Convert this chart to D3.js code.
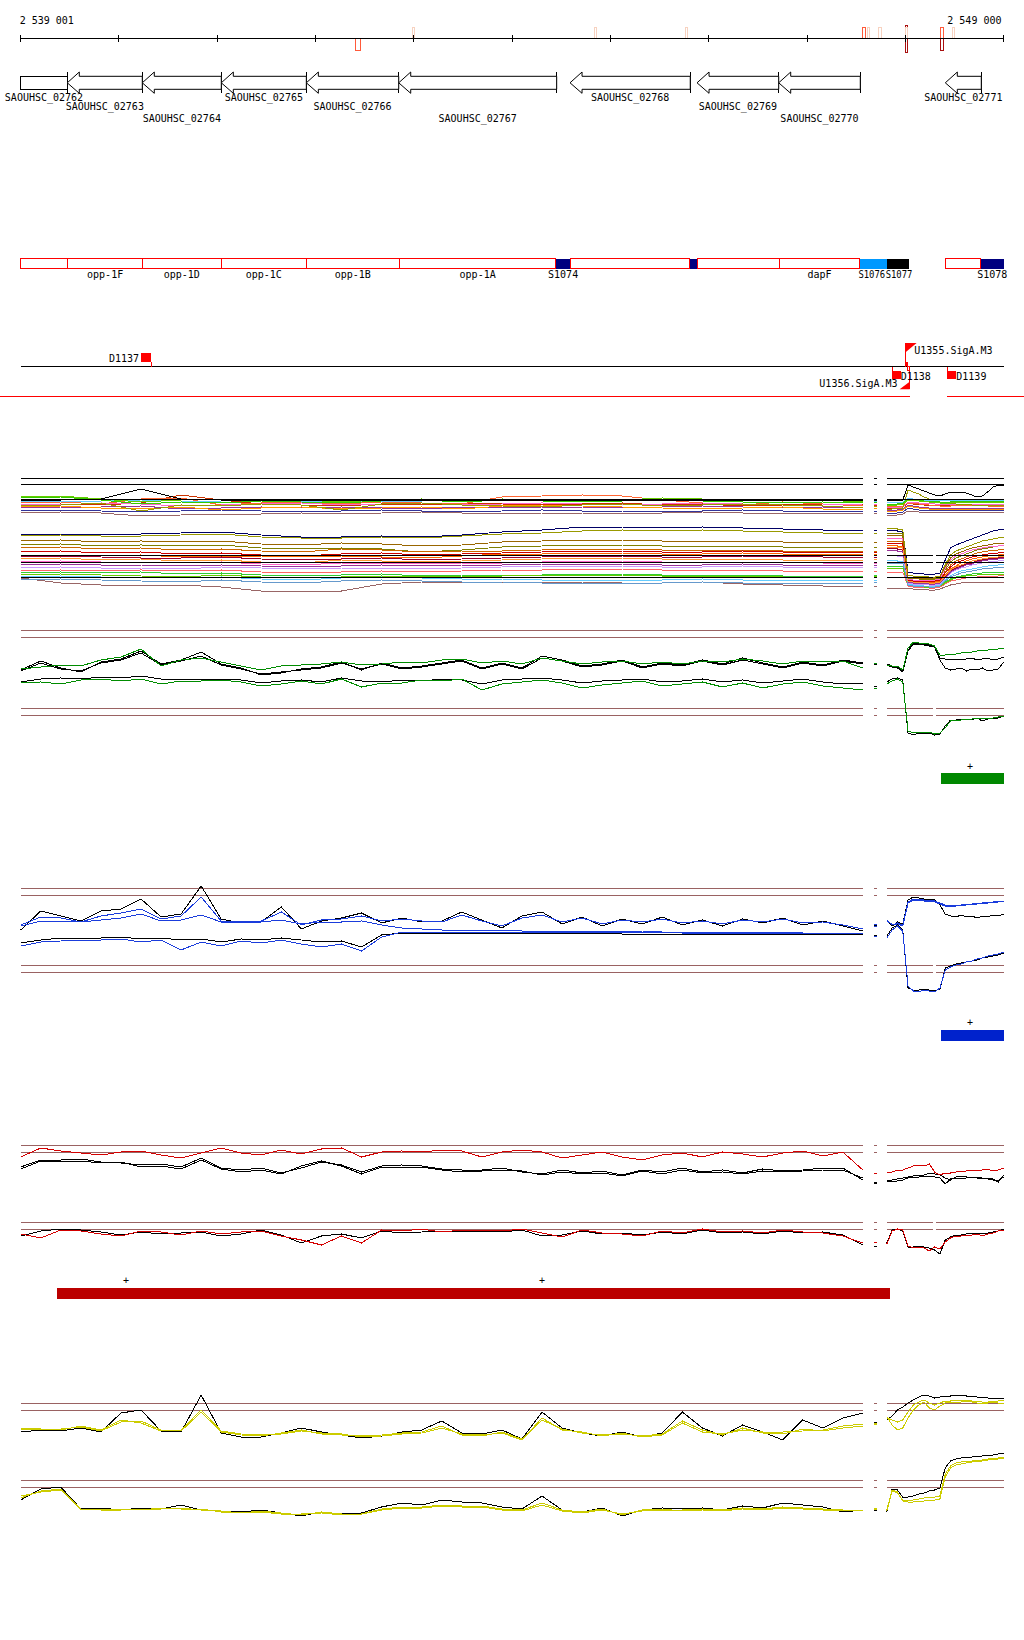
<!DOCTYPE html>
<html><head><meta charset="utf-8">
<script src="https://cdn.jsdelivr.net/npm/d3@7"></script>
<style>
body{margin:0;background:#fff}
svg{display:block}
text{font-family:"DejaVu Sans Mono","Liberation Mono",monospace;font-size:10px;fill:#000}
</style></head>
<body><svg id="c" width="1024" height="1640"></svg>
<script>
// ---------- axis / positions ----------
const VIEW = [2539001, 2549000];
const tickPos = [2539001,2540001,2541001,2542001,2543001,2544001,2545001,2546001,2547001,2548001,2549000];
const tickLabels = ['2 539 001', '2 549 000'];
const mainPos = d3.range(43).map(i => 2539001 + i * 204);
const mainPosA = d3.range(22).map(i => 2539001 + i * 408);
const rightPos = d3.range(23).map(i => 2547813 + i * 54);
const fragPos = [2547685, 2547712];
const gapRight = [2548283, 2548314];

// ---------- ruler markers ----------
const markStart = [2542412,2542989,2544841,2545767,2547563,2547614,2547731,2548000,2548004,2548357,2548357,2548479];
const markEnd   = [2542460,2543004,2544864,2545787,2547598,2547632,2547760,2548024,2548016,2548391,2548391,2548497];
const markStrand= ['-','+','+','+','+','+','+','±','+','+','-','+'];
const markScore = [2,1,1,1,2,1,1,3,1,2,3,1];

// ---------- genes ----------
const geneNames = ['SAOUHSC_02762','SAOUHSC_02763','SAOUHSC_02764','SAOUHSC_02765','SAOUHSC_02766','SAOUHSC_02767','SAOUHSC_02768','SAOUHSC_02769','SAOUHSC_02770','SAOUHSC_02771'];
const geneStart = [2538500,2539475,2540238,2541042,2541907,2542847,2544590,2545882,2546713,2548408];
const geneEnd   = [2539475,2540238,2541042,2541907,2542847,2544454,2545813,2546713,2547543,2548774];

// ---------- feature bar ----------
const featNames = ['','opp-1F','opp-1D','opp-1C','opp-1B','opp-1A','S1074','','','','dapF','S1076','S1077','','S1078'];
const featStart = [2539001,2539482,2540238,2541042,2541907,2542853,2544447,2544592,2545810,2545885,2546716,2547540,2547814,2548405,2548771];
const featEnd   = [2539482,2540238,2541042,2541907,2542853,2544447,2544592,2545810,2545885,2546716,2547540,2547814,2548035,2548771,2549000];
const featType  = ['cds','cds','cds','cds','cds','cds','srna','cds','srna','cds','cds','tss','term','cds','srna'];

// ---------- sites / promoters ----------
const siteNames = ['D1137','D1138','D1139'];
const siteStart = [2540225,2547868,2548428];
const siteEnd   = [2540327,2547954,2548520];
const siteStrand= ['+','-','-'];
const promNames = ['U1355.SigA.M3','U1356.SigA.M3'];
const promPos   = [2548007,2548045];
const promStrand= ['+','-'];
const segLine   = [[2538790,2548045],[2548428,2549208]];

// ---------- track A (multi-colour) ----------
const refA = [121.7,115.7,100.5,45,37.7,22.7];
const aU1 = [104,104,101,98,100,101,101,100,98,100,101,99,101,100,99,100,102,101,100,99,100,98];
const aU1R = [94,95,95,96,100,100,99,99,98,98,97,97,97,98,98,98,98,98,98,98,98,98,98];
const aU2 = [95,95,97,89,95,94,96,95,90,96,97,95,94,93,95,96,94,95,96,95,94,92];
const aU2R = [91,91,92,92,110,108,106,103,101,99,98,97,97,96,96,96,95,95,95,95,95,95,95];
const aU3 = [97,98,96,101,102,95,97,98,96,98,97,96,103,104,105,104,100,97,95,98,96,94];
const aU3R = [93,94,94,94,97,97,96,96,95,95,94,94,94,95,95,95,95,95,95,94,94,94,94];
const aU4 = [92,93,93,94,91,92,93,92,93,92,91,93,92,93,93,92,93,94,93,92,93,92];
const aU4R = [90,90,90,91,95,94,93,93,92,92,92,92,92,92,92,92,92,92,92,92,92,92,92];
const aU5 = [99,99,99,100,99,99,100,99,99,99,99,100,99,100,100,99,100,100,100,99,100,99];
const aU5R = [98,98,98,98,102,101,101,100,100,100,100,100,100,100,100,100,100,100,100,100,100,100,100];
const aU6 = [87,88,87,84,85,86,86,87,86,87,88,87,86,87,87,86,87,88,87,87,87,87];
const aU6R = [85,85,85,86,89,89,88,88,88,88,88,88,88,88,88,88,88,88,88,88,88,88,88];
const aU7 = [100,100,101,111,101,100,100,100,100,100,100,100,100,100,100,100,100,100,100,100,100,100];
const aU7R = [100,100,100,100,115,113,111,109,107,105,104,106,108,108,108,107,105,103,104,108,113,115,115];
const aU8 = [94,96,95,97,105,100,96,95,94,96,95,97,96,95,96,97,95,96,94,95,96,95];
const aU8R = [92,92,92,93,97,96,96,95,95,95,95,95,95,95,95,95,95,95,95,95,95,95,95];
const aU9 = [96,95,97,96,94,95,96,97,95,96,97,95,96,97,96,95,96,97,96,95,95,96];
const aU9R = [93,93,93,93,98,98,97,97,97,96,96,96,96,96,96,96,96,96,96,96,96,96,96];
const aU10 = [102,103,100,96,98,97,99,98,97,99,100,98,100,99,98,99,100,99,98,97,98,97];
const aU10R = [96,96,96,97,101,100,100,99,99,99,98,98,98,99,99,99,99,99,99,99,99,99,99];
const aU11 = [93,94,92,91,93,90,92,93,91,92,93,91,94,95,94,93,92,91,92,93,91,90];
const aU11R = [89,89,89,90,94,93,92,92,91,91,91,91,91,91,91,91,91,91,91,91,91,91,91];
const aU12 = [90,90,89,88,89,90,89,88,89,90,89,88,89,90,89,89,88,89,90,89,89,88];
const aU12R = [87,87,87,88,92,91,90,90,90,90,90,90,90,90,90,90,90,90,90,90,90,90,90];
const aL1 = [66,66,66,66,67,68,65,63,63,64,63,65,68,70,73,73,72,73,72,71,70,70];
const aL1R = [70,70,69,69,28,27,27,26,26,26,27,40,52,55,57,59,61,63,65,67,69,70,71];
const aL2 = [64,65,64,64,65,66,63,62,62,63,62,64,66,67,69,70,69,70,69,68,67,67];
const aL2R = [72,72,71,70,25,24,24,24,23,23,24,35,45,49,51,53,55,57,59,60,61,62,63];
const aL3 = [55,56,54,55,54,55,52,51,52,51,48,50,53,54,55,55,54,54,54,53,53,52];
const aL3R = [67,67,67,66,22,22,21,21,21,21,22,30,38,42,44,46,48,50,51,52,53,54,55];
const aL4 = [52,53,51,52,50,51,49,48,51,50,48,49,49,50,51,51,50,50,50,49,49,48];
const aL4R = [59,59,59,58,20,20,19,19,19,19,20,28,35,39,41,43,45,47,48,49,50,50,51];
const aL5 = [45,45,44,45,43,44,44,43,44,43,42,44,46,46,47,47,46,46,47,46,46,45];
const aL5R = [55,55,54,54,19,18,18,18,18,18,19,25,31,34,37,39,41,42,43,44,45,45,46];
const aL6 = [44,44,43,42,42,43,41,40,41,42,40,41,42,43,44,44,43,43,44,44,43,43];
const aL6R = [52,52,51,51,18,17,17,17,16,16,17,23,29,32,34,36,37,39,40,41,42,42,43];
const aL7 = [32,33,32,32,31,33,32,31,32,32,31,32,33,34,34,34,33,33,34,33,33,32];
const aL7R = [45,45,44,44,17,16,16,16,15,15,16,22,27,30,32,33,35,36,37,38,39,39,40];
const aL8 = [23,24,23,23,22,23,21,20,22,23,22,21,21,20,20,20,20,21,20,20,20,19];
const aL8R = [40,40,39,39,16,15,15,14,14,14,15,20,24,27,29,30,31,32,33,34,35,35,36];
const aL9 = [27,28,27,28,26,27,25,24,25,26,24,25,25,25,26,26,25,25,25,24,24,24];
const aL9R = [34,34,34,34,15,14,14,14,13,13,14,18,21,23,24,25,26,27,27,28,28,28,28];
const aL10 = [29,30,29,30,29,30,28,27,28,29,28,29,30,30,31,31,30,30,30,29,29,29];
const aL10R = [28,28,28,28,14,13,13,13,12,12,13,16,19,20,21,22,23,23,24,24,24,24,25];
const aL11 = [22,17,15,15,15,13,9,9,9,16,18,18,17,18,18,17,17,18,16,15,14,14];
const aL11R = [12,12,12,12,12,11,11,11,10,10,11,13,15,16,17,18,18,18,18,18,18,18,18];
const aL12 = [38,39,38,38,37,38,36,35,37,37,36,37,37,38,39,39,38,38,38,38,37,37];
const aL12R = [62,62,62,61,21,20,20,20,20,20,21,32,40,44,46,48,50,51,52,53,54,54,55];
const aL13 = [48,49,47,48,46,47,45,44,46,47,45,46,47,48,49,49,48,48,49,48,48,47];
const aL13R = [57,57,57,56,20,19,19,19,19,19,20,27,33,37,39,41,43,44,45,46,47,47,48];
const aL14 = [25,26,25,24,23,25,23,22,23,24,23,24,24,25,25,25,24,24,24,23,23,23];
const aL14R = [32,32,32,32,15,14,14,13,13,13,14,17,20,22,23,24,25,25,26,26,26,26,26];
const aL15 = [35,36,35,35,34,35,34,33,34,35,34,35,35,36,36,36,35,35,36,35,35,34];
const aL15R = [50,50,49,49,18,17,17,17,16,16,17,22,28,31,33,35,36,38,39,40,41,41,42];
const aL16 = [41,42,40,41,39,40,38,37,40,39,38,39,40,41,42,42,41,41,41,40,40,40];
const aL16R = [53,53,53,52,19,18,18,18,17,17,18,24,30,33,35,37,39,40,41,42,43,43,44];
const aL17 = [20,21,20,19,18,20,18,17,19,20,19,18,18,17,17,17,17,18,17,17,17,16];
const aL17R = [37,37,37,37,15,14,14,14,13,13,14,19,23,25,27,28,29,30,31,32,32,33,33];
const aL18 = [59,60,58,59,58,59,56,55,57,56,54,55,58,59,60,60,59,59,59,58,58,57];
const aL18R = [65,65,65,64,23,22,22,22,22,22,23,33,42,46,48,50,52,53,54,55,56,57,57];
// fragment values, in the same order as the track A series list below
const aFrag = [87,92,89,92,95,96,96,94,99,98,100,100,70,67,53,49,46,43,33,20,25,29,14,37,48,24,35,41,18,58];

// ---------- track B (green) ----------
const refB = [109.7,102.7,31.7,24.7];
const bUpBlack = [70,79,72,68,78,81,89,76,80,88,76,72,65,67,71,73,78,70,77,72,74,77,80,72,77,72,84,80,74,76,80,73,77,75,80,76,82,77,73,78,75,80,77];
const bUpBlackR = [75,73,72,68,90,97,97,96,95,94,82,81,81,80,81,81,82,80,81,82,80,81,83];
const bUpBlack2 = [69,77,71,69,77,80,87,75,79,84,75,71,66,68,70,72,77,71,76,71,73,76,79,71,76,71,82,79,73,75,79,72,76,74,79,75,80,76,72,77,74,79,76];
const bUpBlack2R = [76,74,73,69,89,96,96,95,94,93,80,72,70,71,72,69,71,70,72,69,70,71,78];
const bUpGreen = [71,73,75,74,80,83,91,74,80,82,78,74,70,74,75,76,78,75,76,78,77,80,81,77,79,76,82,79,76,78,79,76,78,76,79,78,81,79,76,79,78,79,72];
const bUpGreenR = [75,74,74,70,92,98,97,97,96,94,85,85,86,86,87,88,88,89,90,90,91,91,92];
const bLoBlack = [58,61,62,61,63,62,64,61,60,61,61,60,57,59,60,58,62,59,58,60,59,61,60,56,60,61,62,60,57,59,60,61,58,59,61,58,60,57,59,61,58,56,57];
const bLoBlackR = [58,61,62,60,7,5,7,7,7,5,6,14,20,20,21,21,20,22,19,21,22,22,24];
const bLoGreen = [57,58,56,60,61,59,61,56,59,59,60,58,54,56,59,56,61,53,57,57,60,59,61,50,56,58,60,57,52,55,57,59,54,56,58,53,57,52,56,58,54,52,50];
const bLoGreenR = [56,59,61,58,9,7,8,8,8,6,7,12,19,20,20,21,21,22,21,22,22,23,24];
const bFrag = [77,76,77,54,52];

// ---------- track C (blue) ----------
const refC = [111.7,104.7,34.3,27.3];
const cUpBlack = [70,89,84,79,89,91,101,83,86,114,81,77,78,93,71,79,82,87,77,82,78,79,88,80,72,84,88,76,83,74,81,76,83,75,80,74,81,77,82,75,79,74,69];
const cUpBlackR = [79,74,78,76,100,103,102,101,101,100,95,86,84,83,85,83,84,82,84,83,85,84,86];
const cUpBlue = [75,83,82,78,84,87,91,81,84,103,79,78,79,88,75,80,81,84,79,81,79,78,85,79,74,82,85,78,82,76,80,78,81,77,79,76,80,78,81,77,78,75,71];
const cUpBlueR = [80,75,77,75,98,101,101,100,100,99,97,95,94,95,95,96,96,97,97,98,98,99,99];
const cUpBlue2 = [74,79,79,78,80,82,86,79,80,85,78,77,78,80,76,78,78,79,75,72,71,70,70,70,70,69,69,69,69,69,69,69,68,68,68,68,68,68,68,67,67,67,67];
const cUpBlue2R = [79,76,76,74,97,100,100,99,99,98,96,94,94,94,95,95,96,96,97,97,98,98,99];
const cLoBlack = [57,60,62,61,62,63,61,62,60,61,58,61,60,62,60,58,59,53,65,67,67,67,67,67,67,67,67,67,67,67,66,66,66,66,66,66,66,66,66,66,66,66,66];
const cLoBlackR = [64,72,75,70,12,10,10,11,10,9,11,32,34,36,37,38,39,40,42,43,44,45,47];
const cLoBlue = [54,58,59,60,60,61,58,60,50,58,54,59,57,60,56,53,56,49,63,68,68,68,68,68,68,68,68,68,68,68,68,68,68,67,67,67,67,67,67,67,67,67,67];
const cLoBlueR = [62,70,74,69,14,9,8,10,9,8,12,30,33,35,36,38,39,41,42,44,45,46,48];
const cFrag = [75,76,74,65,64];

// ---------- track D (red) ----------
const refD = [114.7,107.7,37.7,30.7];
const dUpRed = [103,112,109,107,105,108,109,105,102,107,112,107,105,110,106,111,112,103,108,109,108,110,109,103,108,110,108,102,105,108,103,100,105,107,103,108,106,103,107,109,104,108,90];
const dUpRedR = [87,88,90,90,92,94,95,94,96,88,85,87,87,88,89,89,90,90,90,91,89,90,92];
const dUpBlack = [93,100,100,101,98,97,95,96,93,102,92,90,92,87,92,98,95,88,94,95,94,91,90,90,92,88,86,90,87,89,85,90,88,92,88,90,87,91,89,90,92,92,80];
const dUpBlackR = [80,80,81,82,83,84,85,85,87,86,85,82,80,83,84,83,83,82,82,82,81,78,85];
const dUpBlack2 = [91,99,98,99,97,98,93,94,91,100,91,88,90,86,94,99,94,86,93,93,93,90,88,89,90,89,85,88,86,87,84,89,86,90,87,88,86,89,88,89,90,90,82];
const dUpBlack2R = [79,78,79,80,82,83,83,84,84,83,82,76,81,82,82,82,83,83,82,81,80,79,83];
const dLoBlack = [24,29,31,30,28,25,28,26,27,28,24,26,30,25,17,24,26,22,29,27,28,29,29,29,28,30,24,25,29,26,27,25,28,26,30,27,28,26,29,27,28,25,15];
const dLoBlackR = [17,30,31,29,13,13,14,13,12,10,6,20,23,25,25,26,27,27,26,27,28,29,31];
const dLoRed = [26,22,30,29,26,24,29,28,25,29,26,28,29,24,20,15,24,17,30,29,31,28,30,30,29,31,27,23,30,27,26,24,29,27,31,28,29,27,30,28,27,24,17];
const dLoRedR = [16,29,31,30,14,12,13,12,9,13,11,18,22,24,24,25,25,26,24,26,27,29,30];
const dFrag = [78,77,87,14,18];

// ---------- track E (yellow) ----------
const refE = [136.7,129.7,60,53];
const eUpBlack = [108,110,109,112,108,127,130,109,108,145,107,103,103,107,112,108,105,102,104,108,110,119,107,106,110,101,128,112,107,104,108,103,107,128,112,104,115,108,100,120,112,122,127];
const eUpBlackR = [120,124,130,133,137,140,143,145,144,142,143,144,144,145,145,144,144,143,143,142,142,142,142];
const eUpYel = [112,111,110,114,110,120,117,109,110,130,109,106,105,106,109,107,106,103,104,106,107,112,106,105,107,100,122,110,108,104,107,103,105,117,108,106,110,108,108,109,110,114,116];
const eUpYelR = [123,115,110,112,122,130,135,138,132,130,134,137,138,137,138,139,138,137,136,137,138,137,137];
const eUpYel2 = [111,110,111,113,109,118,119,110,109,128,108,105,104,107,110,106,105,104,105,107,108,114,105,104,108,101,120,111,107,105,106,104,106,119,110,105,112,107,106,111,109,112,114];
const eUpYel2R = [122,120,118,120,128,135,138,140,137,135,137,139,139,140,140,140,139,139,138,138,139,139,140];
const eLoBlack = [40,51,53,31,32,30,32,31,35,30,29,28,30,27,24,28,26,27,33,37,35,40,38,37,33,31,44,30,28,32,24,30,32,31,32,30,34,32,37,35,33,28,30];
const eLoBlackR = [28,51,50,43,43,44,46,47,49,50,52,72,79,81,82,83,83,84,84,85,85,86,87];
const eLoYel = [44,48,50,30,31,31,30,32,31,31,28,27,28,26,26,27,25,26,30,32,32,34,33,33,30,29,35,29,27,30,26,29,30,30,31,30,32,31,33,32,31,30,29];
const eLoYelR = [30,50,48,39,38,38,39,39,40,40,41,63,72,75,76,77,78,79,79,80,81,81,82];
const eLoYel2 = [42,49,51,31,30,30,31,31,32,30,29,27,29,27,25,28,26,26,31,33,33,35,34,34,31,30,37,30,28,31,25,30,31,29,30,29,31,30,32,31,30,29,30];
const eLoYel2R = [29,49,47,40,40,40,41,42,43,43,44,66,74,77,78,79,79,80,80,81,82,82,83];
const eFrag = [118,116,117,30,32,31];

// ---------- strand bars ----------
const barTrack = ['B','C','D'];
const barStart = [2548364,2548364,2539370];
const barEnd   = [2549000,2549000,2547845];
const barPlus  = [[2548659],[2548659],[2540072,2544305]];

// ======================================================
const svg = d3.select('#c');
svg.append('rect').attr('width',1024).attr('height',1640).attr('fill','#fff');
const x = d3.scaleLinear().domain(VIEW).range([20.7, 1003.5]);
const root = svg.append('g').attr('shape-rendering','crispEdges');
const CHAR = 6.02;

// ruler
const markColor = {1:'#f7d2c0', 2:'#ff5a3a', 3:'#a80f0f'};
const markY = {'+':[27,38.5], '-':[38.5,50.5], '±':[25,52]};
markStart.forEach((s,i)=>{
  const w = Math.max(2, x(markEnd[i]) - x(s));
  const yy = markY[markStrand[i]];
  root.append('rect').attr('x', x(s)).attr('y', yy[0]).attr('width', w).attr('height', yy[1]-yy[0])
    .attr('fill','none').attr('stroke', markColor[markScore[i]]).attr('stroke-width',1);
});
root.append('line').attr('x1',x(VIEW[0])).attr('x2',x(VIEW[1])).attr('y1',38.5).attr('y2',38.5).attr('stroke','#000');
tickPos.forEach(p=>root.append('line').attr('x1',x(p)).attr('x2',x(p)).attr('y1',35).attr('y2',41.5).attr('stroke','#000'));
svg.append('text').attr('x', x(tickPos[0]) - 1).attr('y', 24).text(tickLabels[0]);
svg.append('text').attr('x', x(tickPos[tickPos.length-1]) - 2).attr('y', 24).attr('text-anchor','end').text(tickLabels[1]);

// genes (all on minus strand)
const gTop = 72, bTop = 76.3, bBot = 89.3, gBot = 93.3, gMid = 82.8;
const labelBase = [100.7, 110, 121.5];
geneNames.forEach((n,i)=>{
  const clipped = geneStart[i] < VIEW[0];
  const x0 = x(Math.max(geneStart[i], VIEW[0])), x1 = x(geneEnd[i]);
  if (clipped) {
    root.append('rect').attr('x',x0).attr('y',bTop).attr('width',x1-x0).attr('height',bBot-bTop).attr('fill','#fff').attr('stroke','#000');
  } else {
    const xh = Math.min(x0 + 12, x1);
    const pts = [[x0,gMid],[xh,gTop],[xh,bTop],[x1,bTop],[x1,bBot],[xh,bBot],[xh,gBot]];
    svg.append('path').attr('d','M'+pts.map(p=>p.join(',')).join('L')+'Z').attr('fill','#fff').attr('stroke','#000');
  }
  root.append('line').attr('x1',x1).attr('x2',x1).attr('y1',gTop).attr('y2',gBot).attr('stroke','#000');
  svg.append('text').attr('x',(x0+x1)/2).attr('y',labelBase[i%3]).attr('text-anchor','middle').text(n);
});

// feature bar
const featFill = {cds:'#fff', srna:'#000080', tss:'#0099ff', term:'#000'};
featStart.forEach((s,i)=>{
  const r = root.append('rect').attr('x',x(s)).attr('y',258.5).attr('width',x(featEnd[i])-x(s)).attr('height',10)
    .attr('fill',featFill[featType[i]]);
  if (featType[i]==='cds') r.attr('stroke','#ff0000');
});
// labels: centred, overlapping neighbours share the joint span side by side
const fl = featNames.map((n,i)=>({n, c:(x(featStart[i])+x(featEnd[i]))/2})).filter(d=>d.n)
  .map(d=>({n:d.n, s:d.c - d.n.length*CHAR/2, e:d.c + d.n.length*CHAR/2, w:null}));
for (let i=1;i<fl.length;i++){
  const a = fl[i-1], b = fl[i];
  if (b.s < a.e) { const s = a.s, e = b.e, half = (e - s)/2; a.s = s; a.e = s + half; a.w = half; b.s = s + half; b.e = e; b.w = half; }
}
fl.forEach(d=>{
  const t = svg.append('text').attr('x',d.s).attr('y',278.3).text(d.n);
  if (d.w) t.attr('textLength', d.w - 0.5).attr('lengthAdjust','spacingAndGlyphs');
});

// site track
const baseY = 366.5;
root.append('line').attr('x1',x(VIEW[0])).attr('x2',x(VIEW[1])).attr('y1',baseY).attr('y2',baseY).attr('stroke','#000');
siteNames.forEach((n,i)=>{
  const x0 = x(siteStart[i]), x1 = x(siteEnd[i]);
  if (siteStrand[i]==='+') {
    root.append('rect').attr('x',x0).attr('y',353).attr('width',x1-x0).attr('height',8.7).attr('fill','#f00');
    root.append('line').attr('x1',x1).attr('x2',x1).attr('y1',361.7).attr('y2',baseY).attr('stroke','#f00');
    svg.append('text').attr('x',x0-2).attr('y',362).attr('text-anchor','end').text(n);
  } else {
    root.append('rect').attr('x',x0).attr('y',371).attr('width',x1-x0).attr('height',8).attr('fill','#f00');
    root.append('line').attr('x1',x0).attr('x2',x0).attr('y1',baseY).attr('y2',371).attr('stroke','#f00');
    svg.append('text').attr('x',x1).attr('y',379.7).text(n);
  }
});
promNames.forEach((n,i)=>{
  const p = x(promPos[i]);
  if (promStrand[i]==='+') {
    root.append('line').attr('x1',p).attr('x2',p).attr('y1',343).attr('y2',baseY).attr('stroke','#f00');
    svg.append('path').attr('d',`M${p},343L${p+10.7},343L${p},352Z`).attr('fill','#f00');
    root.append('rect').attr('x',p-1.3).attr('y',362).attr('width',3.3).attr('height',4).attr('fill','#f00');
    svg.append('text').attr('x',p+8.4).attr('y',354).text(n);
  } else {
    root.append('line').attr('x1',p).attr('x2',p).attr('y1',baseY).attr('y2',389.3).attr('stroke','#f00');
    svg.append('path').attr('d',`M${p},381.7L${p},389.3L${p-10},389.3Z`).attr('fill','#f00');
    root.append('rect').attr('x',p-2.4).attr('y',366.5).attr('width',2.4).attr('height',4).attr('fill','none').attr('stroke','#f00');
    svg.append('text').attr('x',p-12).attr('y',387).attr('text-anchor','end').text(n);
  }
});
segLine.forEach(s=>root.append('line').attr('x1',Math.max(0,x(s[0]))).attr('x2',Math.min(1024,x(s[1]))).attr('y1',396.7).attr('y2',396.7).attr('stroke','#f00').attr('stroke-width',1.2));

// ---------- data tracks ----------
const brown = '#9a6262';
const tracks = [
  {id:'A', base:600, pos:mainPosA, refs:refA, refColor:'#000', refGap:[0,0,0,1,1,1], refsOnTop:true, frag:aFrag,
   series:[['#996666',aU6,aU6R],['#993399',aU4,aU4R],['#333399',aU12,aU12R],['#ff9900',aU11,aU11R],['#cc3300',aU8,aU8R],['#ff6633',aU3,aU3R],['#ff66cc',aU9,aU9R],['#999900',aU2,aU2R],['#66ccff',aU5,aU5R],['#33cc00',aU10,aU10R],['#66cc00',aU1,aU1R],['#000',aU7,aU7R],
           ['#000066',aL1,aL1R],['#999900',aL2,aL2R],['#808000',aL3,aL3R],['#cc6600',aL4,aL4R],['#ff6600',aL5,aL5R],['#990033',aL6,aL6R],['#cc99ff',aL7,aL7R],['#66ccff',aL8,aL8R],['#33cc33',aL9,aL9R],['#ff6666',aL10,aL10R],['#996666',aL11,aL11R],['#ff66cc',aL12,aL12R],
           ['#cc0000',aL13,aL13R],['#66cc00',aL14,aL14R],['#993399',aL15,aL15R],['#ff9933',aL16,aL16R],['#6699cc',aL17,aL17R],['#996600',aL18,aL18R]]},
  {id:'B', base:740, pos:mainPos, refs:refB, refColor:brown, refGap:[0,0,1,1], frag:bFrag,
   series:[['#000',bUpBlack,bUpBlackR],['#000',bUpBlack2,bUpBlack2R],['#008c00',bUpGreen,bUpGreenR],['#000',bLoBlack,bLoBlackR],['#008c00',bLoGreen,bLoGreenR]]},
  {id:'C', base:1000, pos:mainPos, refs:refC, refColor:brown, refGap:[0,0,1,1], frag:cFrag,
   series:[['#000',cUpBlack,cUpBlackR],['#1a3cdc',cUpBlue,cUpBlueR],['#1a3cdc',cUpBlue2,cUpBlue2R],['#000',cLoBlack,cLoBlackR],['#1a3cdc',cLoBlue,cLoBlueR]]},
  {id:'D', base:1260, pos:mainPos, refs:refD, refColor:brown, refGap:[0,0,1,1], frag:dFrag,
   series:[['#000',dUpBlack,dUpBlackR],['#000',dUpBlack2,dUpBlack2R],['#d40000',dUpRed,dUpRedR],['#000',dLoBlack,dLoBlackR],['#d40000',dLoRed,dLoRedR]]},
  {id:'E', base:1540, pos:mainPos, refs:refE, refColor:brown, refGap:[0,0,0,0], frag:eFrag,
   series:[['#000',eUpBlack,eUpBlackR],['#cccc00',eUpYel,eUpYelR],['#cccc00',eUpYel2,eUpYel2R],['#000',eLoBlack,eLoBlackR],['#cccc00',eLoYel,eLoYelR],['#cccc00',eLoYel2,eLoYel2R]]}
];
const mainEnd = mainPos[mainPos.length-1];

tracks.forEach(t=>{
  const y = d3.scaleLinear().domain([0,1]).range([t.base, t.base-1]);
  const g = root.append('g');
  const line = d3.line().x(d=>x(d[0])).y(d=>y(d[1]));
  const drawRefs = ()=> t.refs.forEach((v,i)=>{
    const segs = [[VIEW[0], mainEnd], fragPos];
    if (t.refGap[i]) { segs.push([rightPos[0], gapRight[0]]); segs.push([gapRight[1], VIEW[1]]); }
    else segs.push([rightPos[0], VIEW[1]]);
    segs.forEach(s=>g.append('line').attr('x1',x(s[0])).attr('x2',x(s[1])).attr('y1',y(v)).attr('y2',y(v)).attr('stroke',t.refColor));
  });
  if (!t.refsOnTop) drawRefs();
  t.series.forEach((s,k)=>{
    const fv = t.frag[k];
    g.append('path').attr('d', line(t.pos.map((p,i)=>[p, s[1][i]]))).attr('fill','none').attr('stroke',s[0]);
    g.append('path').attr('d', line(rightPos.map((p,i)=>[p, s[2][i]]))).attr('fill','none').attr('stroke',s[0]);
    g.append('path').attr('d', line(fragPos.map(p=>[p, fv]))).attr('fill','none').attr('stroke',s[0]);
  });
  if (t.refsOnTop) drawRefs();
});

// strand bars
const barGeo = {B:{y:773,h:10.7,c:'#008800',ty:770}, C:{y:1030,h:10.5,c:'#0022cc',ty:1026}, D:{y:1288,h:11,c:'#bb0000',ty:1284}};
barTrack.forEach((t,i)=>{
  const gg = barGeo[t];
  root.append('rect').attr('x',x(barStart[i])).attr('y',gg.y).attr('width',x(barEnd[i])-x(barStart[i])).attr('height',gg.h).attr('fill',gg.c);
  barPlus[i].forEach(p=>svg.append('text').attr('x',x(p)).attr('y',gg.ty).attr('text-anchor','middle').text('+'));
});
</script>
</body></html>
